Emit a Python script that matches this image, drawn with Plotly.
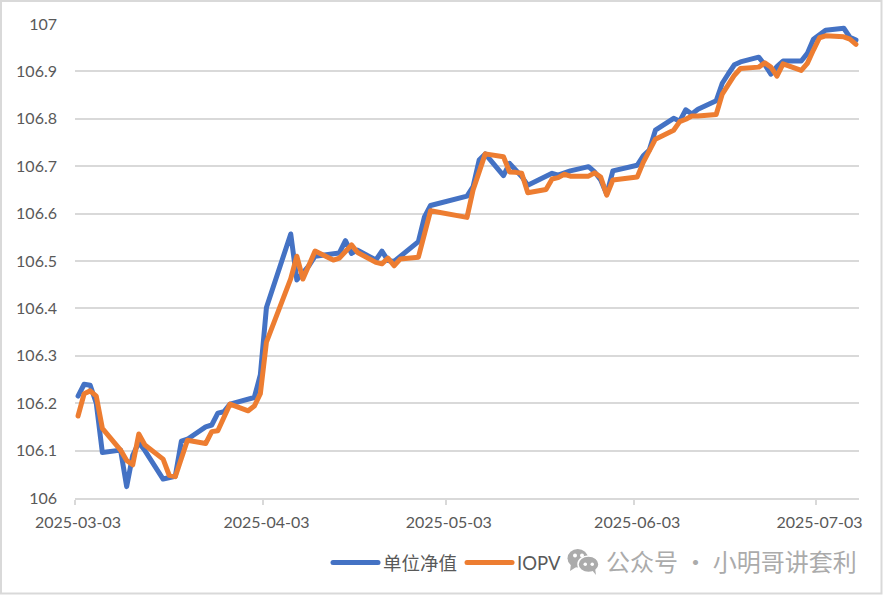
import pandas as pd
import plotly.graph_objects as go

dates = (
    [f"2025-03-{d:02d}" for d in [3,4,5,6,7,10,11,12,13,14,17,18,19,20,21,24,25,26,27,28,31]]
    + [f"2025-04-{d:02d}" for d in [1,2,3,7,8,9,10,11,14,15,16,17,18,21,22,23,24,25,28,29,30]]
    + [f"2025-05-{d:02d}" for d in [6,7,8,9,12,13,14,15,16,19,20,21,22,23,26,27,28,29,30]]
    + [f"2025-06-{d:02d}" for d in [3,4,5,6,9,10,11,12,13,16,17,18,19,20,23,24,25,26,27,30]]
    + [f"2025-07-{d:02d}" for d in [1,2,3,4,7,8,9]]
)
nav = [
    106.215,106.24,106.238,106.2,106.096,106.101,106.024,106.09,106.117,106.10,106.04,106.042,106.046,106.12,106.124,106.15,106.154,106.179,106.182,106.198,106.21,
    106.212,106.26,106.402,106.557,106.46,106.475,106.49,106.51,106.515,106.517,106.543,106.516,106.523,106.502,106.521,106.501,106.499,106.509,106.541,106.593,106.617,
    106.637,106.657,106.713,106.726,106.68,106.706,106.692,106.678,106.66,106.679,106.685,106.681,106.686,106.69,106.699,106.688,106.671,106.641,106.69,
    106.702,106.722,106.734,106.776,106.801,106.795,106.819,106.81,106.82,106.838,106.875,106.895,106.914,106.92,106.93,106.914,106.894,106.91,106.922,106.922,
    106.938,106.968,106.979,106.987,106.991,106.972,106.966,
]
iopv = [
    106.173,106.22,106.226,106.215,106.147,106.101,106.079,106.07,106.135,106.112,106.082,106.048,106.045,106.08,106.122,106.115,106.14,106.142,106.171,106.198,106.184,
    106.194,106.22,106.329,106.463,106.51,106.462,106.49,106.521,106.502,106.506,106.52,106.534,106.518,106.497,106.494,106.506,106.49,106.504,106.508,106.56,106.606,
    106.592,106.65,106.688,106.726,106.72,106.688,106.687,106.685,106.644,106.651,106.673,106.676,106.683,106.679,106.679,106.686,106.677,106.639,106.671,
    106.677,106.708,106.73,106.757,106.776,106.794,106.799,106.806,106.806,106.809,106.852,106.871,106.892,106.906,106.909,106.918,106.909,106.89,106.916,106.902,
    106.917,106.945,106.971,106.975,106.973,106.968,106.957,
]
x_ticks = ["2025-03-03", "2025-04-03", "2025-05-03", "2025-06-03", "2025-07-03"]
y_ticks = [106, 106.1, 106.2, 106.3, 106.4, 106.5, 106.6, 106.7, 106.8, 106.9, 107]
y_labels = ["106", "106.1", "106.2", "106.3", "106.4", "106.5", "106.6", "106.7", "106.8", "106.9", "107"]

W, H = 883, 595
L, R, T, B = 75, 859, 24, 498
GRID = "#D9D9D9"
TXT = "#595959"
MARK = "#ABABAB"
FONT = "Lato, 'Noto Sans CJK SC', sans-serif"

# each day occupies a band; points and labels sit at the band centre, tick marks at its left edge
half_day = pd.Timedelta(hours=12)
x = pd.to_datetime(dates) + half_day
label_pos = pd.to_datetime(x_ticks) + half_day

fig = go.Figure()
fig.add_trace(go.Scatter(x=x, y=nav, mode="lines", name="单位净值",
                         line=dict(color="#4472C4", width=5)))
fig.add_trace(go.Scatter(x=x, y=iopv, mode="lines", name="IOPV",
                         line=dict(color="#ED7D31", width=5)))

def px(v):
    return (v - L) / (R - L)
def py(v):
    return (B - v) / (B - T)

def circle(x0, x1, y0, y1, fill, line=None):
    return dict(type="circle", xref="paper", yref="paper", x0=px(x0), x1=px(x1), y0=py(y1), y1=py(y0),
                fillcolor=fill, line=line or dict(width=0))

def tri(a, b, c, fill):
    pts = [a, b, c]
    path = "M " + " L ".join(f"{px(p[0]):.5f} {py(p[1]):.5f}" for p in pts) + " Z"
    return dict(type="path", xref="paper", yref="paper", path=path, fillcolor=fill, line=dict(width=0))

shapes = [
    # chart frame
    dict(type="rect", xref="paper", yref="paper", x0=px(1), x1=px(881.5), y0=py(593.5), y1=py(1),
         line=dict(color=GRID, width=2), fillcolor="rgba(0,0,0,0)", layer="below"),
    # WeChat-style watermark glyph
    circle(567.5, 588, 549, 567.5, MARK),
    tri((571, 564), (570, 571), (577, 566.5), MARK),
    circle(573, 577, 553.5, 557.5, "white"),
    circle(580, 584, 553.5, 557.5, "white"),
    circle(578, 599, 556, 572.5, MARK, dict(color="white", width=1.5)),
    tri((592, 570), (596, 575), (595, 568), MARK),
    circle(583.5, 587, 562.5, 566, "white"),
    circle(590.5, 594, 562.5, 566, "white"),
]

fig.add_annotation(xref="paper", yref="paper", x=px(604), y=py(560.5), xanchor="left", yanchor="middle",
                   text="公众号 · 小明哥讲套利", showarrow=False,
                   font=dict(family="'Noto Sans CJK SC'", size=24, color=MARK))

fig.update_layout(
    width=W, height=H, autosize=False,
    margin=dict(l=L, r=W - R, t=T, b=H - B, pad=0),
    paper_bgcolor="white", plot_bgcolor="white",
    font=dict(family=FONT, size=16, color=TXT),
    shapes=shapes,
    showlegend=True,
    legend=dict(orientation="h", x=px(328), xanchor="left", y=py(563), yanchor="middle",
                font=dict(family=FONT, size=18.5, color=TXT),
                itemwidth=45, bgcolor="rgba(0,0,0,0)", traceorder="normal"),
    xaxis=dict(type="date", range=["2025-03-03", "2025-07-10"],
               tickmode="array", tickvals=label_pos, ticktext=x_ticks,
               ticks="", ticklabelstandoff=9,
               minor=dict(tickmode="array", tickvals=x_ticks, ticks="outside", ticklen=5,
                          tickcolor=GRID, tickwidth=1.5, showgrid=False),
               showgrid=False, zeroline=False, showline=True, linecolor=GRID, linewidth=1.5,
               tickfont=dict(family=FONT, size=16, color=TXT)),
    yaxis=dict(range=[106, 107], tickmode="array", tickvals=y_ticks, ticktext=y_labels,
               showgrid=True, gridcolor=GRID, gridwidth=1.5, zeroline=False, showline=False,
               ticks="", ticklabelstandoff=17, tickfont=dict(family=FONT, size=16, color=TXT)),
)

round_lines = (
    "document.body.style.margin='0';"
    "var fixLines=function(){document.querySelectorAll('.js-line').forEach(function(e){"
    "e.style.strokeLinejoin='round';e.style.strokeLinecap='round';});};"
    "fixLines();setTimeout(fixLines,50);setTimeout(fixLines,300);"
)
fig.write_html("out.html", config={"displayModeBar": False}, post_script=round_lines)
